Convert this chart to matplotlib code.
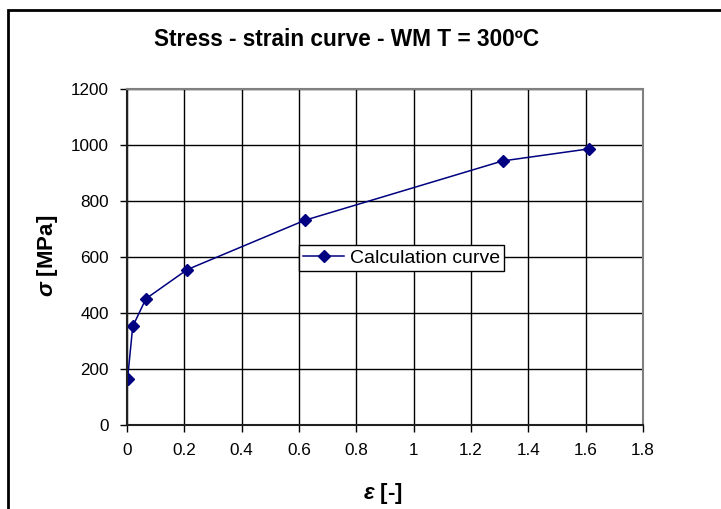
import matplotlib.pyplot as plt
from matplotlib.patches import Rectangle

# data
strain = [0.002, 0.02, 0.066, 0.21, 0.62, 1.31, 1.61]
stress = [165, 352, 451, 555, 731, 943, 986]

xticks = [0, 0.2, 0.4, 0.6, 0.8, 1, 1.2, 1.4, 1.6, 1.8]
xticklabels = ['0', '0.2', '0.4', '0.6', '0.8', '1', '1.2', '1.4', '1.6', '1.8']
yticks = [0, 200, 400, 600, 800, 1000, 1200]

plt.rcParams['font.family'] = ['Liberation Sans', 'DejaVu Sans']
plt.rcParams['mathtext.fontset'] = 'custom'
plt.rcParams['mathtext.it'] = 'Liberation Sans:italic:bold'
plt.rcParams['mathtext.rm'] = 'Liberation Sans:bold'

W, H = 721, 509
fig = plt.figure(figsize=(W/100, H/100), dpi=100)
ax = fig.add_axes([127/W, 1-425/H, (643-127)/W, (425-89)/H])

ax.plot(strain, stress, color='#000080', lw=1.1, marker='D', ms=6.5,
        label='Calculation curve')

ax.set_xlim(0, 1.8)
ax.set_ylim(0, 1200)
ax.set_xticks(xticks)
ax.set_xticklabels(xticklabels)
ax.set_yticks(yticks)
ax.grid(True, color='black', lw=1)
ax.set_axisbelow(True)
ax.tick_params(direction='out', length=5, width=1, colors='black', labelsize=12.3, pad=8)

for s in ['top', 'right']:
    ax.spines[s].set_color('#808080')
    ax.spines[s].set_linewidth(1.5)
for s in ['left', 'bottom']:
    ax.spines[s].set_color('#202020')
    ax.spines[s].set_linewidth(1.5)

leg = ax.legend(loc='center left', bbox_to_anchor=(0.6/1.8, 0.496), fontsize=14,
                frameon=True, fancybox=False, framealpha=1, edgecolor='black',
                handlelength=2.1, borderpad=0.22, handletextpad=0.3, borderaxespad=0)
leg.get_frame().set_linewidth(1)

fig.text(347/W, 1-39/H, 'Stress - strain curve - WM T = 300ºC', ha='center', va='center',
         fontsize=16.3, fontweight='bold')
fig.text(383/W, 1-494/H, r'$\epsilon$ [-]', ha='center', va='center', fontsize=16,
         fontweight='bold')
fig.text(48/W, 1-256/H, r'$\sigma$ [MPa]', ha='center', va='center', fontsize=16,
         fontweight='bold', rotation=90)

# outer chart border
fig.patches.append(Rectangle((8/W, -0.1), 1.2, 1.1 - 9.5/H, transform=fig.transFigure,
                             fill=False, edgecolor='black', lw=2))

fig.savefig('out.png', dpi=100)
